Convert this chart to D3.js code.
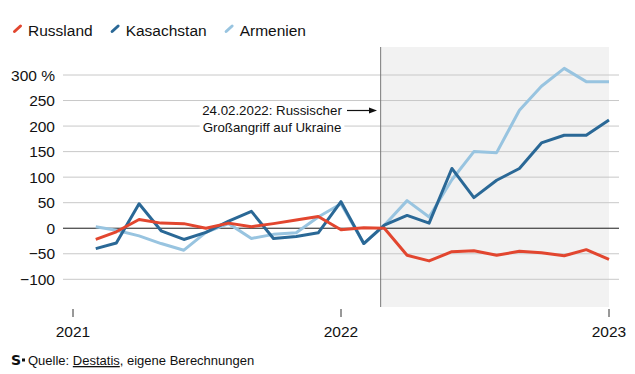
<!DOCTYPE html>
<html lang="de">
<head>
<meta charset="UTF-8">
<title>Exporte nach Russland, Kasachstan, Armenien</title>
<script src="https://cdn.jsdelivr.net/npm/d3@7"></script>
<style>
body { margin: 0; background: #fff; }
svg text { font-family: "Liberation Sans", Arimo, sans-serif; fill: #111; }
</style>
</head>
<body>
<svg width="635" height="374"></svg>
<script>
// Monate Feb 2021 bis Jan 2023, Veränderung in %
var months = ["2021-02", "2021-03", "2021-04", "2021-05", "2021-06", "2021-07", "2021-08", "2021-09",
    "2021-10", "2021-11", "2021-12", "2022-01", "2022-02", "2022-03", "2022-04", "2022-05",
    "2022-06", "2022-07", "2022-08", "2022-09", "2022-10", "2022-11", "2022-12", "2023-01"];
var russland = [-22, -7, 17, 10, 9, 0, 10, 3, 9, 16, 23, -3, 1, 0, -53, -64, -46, -44, -53, -45, -48, -54, -42, -61];
var kasachstan = [-40, -29, 48, -5, -22, -8, 14, 33, -20, -16, -9, 52, -30, 6, 25, 10, 117, 60, 94, 117, 167, 182, 182, 212];
var armenien = [3, -4, -15, -30, -43, -8, 9, -20, -12, -9, 22, 48, -30, 6, 54, 22, 95, 150, 148, 231, 278, 313, 287, 287];
var categories = ["Russland", "Kasachstan", "Armenien"];
var colors = ["#e2462f", "#2a6896", "#98c4e0"];
var yTicks = [-100, -50, 0, 50, 100, 150, 200, 250, 300];
var xTicks = ["2021-01-01", "2022-01-01", "2023-01-01"];
var invasion = "2022-02-24";

var svg = d3.select("svg");
var parse = d3.timeParse("%Y-%m");
var parseDay = d3.timeParse("%Y-%m-%d");

var x = d3.scaleTime().domain([parseDay("2021-01-01"), parseDay("2023-01-01")]).range([73, 609]);
var y = d3.scaleLinear().domain([-100, 300]).range([279.3, 75]);
var gridLeft = 63, gridRight = 619, plotTop = 47, plotBottom = 307;

// Bereich nach Kriegsbeginn
var xInv = x(parseDay(invasion));
svg.append("rect").attr("x", xInv).attr("y", plotTop).attr("width", x(parseDay("2023-01-01")) - xInv)
    .attr("height", plotBottom - plotTop).attr("fill", "#f2f2f2");

// Gitter
svg.append("g").selectAll("line").data(yTicks.filter(function(d) { return d != 0; })).enter()
    .append("line").attr("x1", gridLeft).attr("x2", gridRight)
    .attr("y1", function(d) { return y(d); }).attr("y2", function(d) { return y(d); })
    .attr("stroke", "#c8c8c8").attr("stroke-width", 1);

svg.append("line").attr("x1", xInv).attr("x2", xInv).attr("y1", plotTop).attr("y2", plotBottom)
    .attr("stroke", "#7a7a7a").attr("stroke-width", 1);

// y-Beschriftung
var fmt = d3.format("d");
svg.append("g").selectAll("text").data(yTicks).enter().append("text")
    .attr("x", 55).attr("y", function(d) { return y(d); }).attr("dy", "0.36em")
    .attr("text-anchor", "end").style("font-size", "15.5px")
    .text(function(d) { return d == 300 ? "300 %" : fmt(d); });

// x-Achse
var xAxis = svg.append("g");
xAxis.selectAll("line").data(xTicks).enter().append("line")
    .attr("x1", function(d) { return x(parseDay(d)); }).attr("x2", function(d) { return x(parseDay(d)); })
    .attr("y1", 309).attr("y2", 317).attr("stroke", "#333");
xAxis.selectAll("text").data(xTicks).enter().append("text")
    .attr("x", function(d) { return x(parseDay(d)); }).attr("y", 337)
    .attr("text-anchor", "middle").style("font-size", "15.5px")
    .text(function(d) { return d.slice(0, 4); });

// Linien
var series = [armenien, kasachstan, russland];
var seriesColors = [colors[2], colors[1], colors[0]];
var line = d3.line().x(function(d, i) { return x(parse(months[i])); }).y(function(d) { return y(d); });

svg.append("line").attr("x1", gridLeft).attr("x2", gridRight).attr("y1", y(0)).attr("y2", y(0))
    .attr("stroke", "#1a1a1a").attr("stroke-width", 1);

svg.append("g").selectAll("path").data(series).enter().append("path")
    .attr("d", line).attr("fill", "none")
    .attr("stroke", function(d, i) { return seriesColors[i]; })
    .attr("stroke-width", 3).attr("stroke-linejoin", "round");

// Annotation
var ann = svg.append("g");
var annLines = ["24.02.2022: Russischer", "Großangriff auf Ukraine"];
var annText = ann.selectAll("text").data(annLines).enter().append("text")
    .attr("x", 272).attr("y", function(d, i) { return 115 + i * 16.5; })
    .attr("text-anchor", "middle").style("font-size", "13.3px")
    .text(function(d) { return d; });
annText.each(function(d, i) {
    var b = this.getBBox();
    var w = b.width + 6 + (i == 0 ? 30 : 0);
    ann.insert("rect", "text").attr("x", b.x - 3).attr("y", b.y - 1).attr("width", w)
        .attr("height", b.height + 2).attr("fill", "#fff");
});
ann.append("line").attr("x1", 347).attr("x2", 370).attr("y1", 110.5).attr("y2", 110.5)
    .attr("stroke", "#111").attr("stroke-width", 1.2);
ann.append("path").attr("d", "M369,107.5L377,110.5L369,113.5Z").attr("fill", "#111");

// Legende
var leg = svg.append("g");
var lx = 13;
categories.forEach(function(c, i) {
    leg.append("line").attr("x1", lx + 1.5).attr("y1", 31.5).attr("x2", lx + 7.5).attr("y2", 26)
        .attr("stroke", colors[i]).attr("stroke-width", 3).attr("stroke-linecap", "round");
    var t = leg.append("text").attr("x", lx + 15).attr("y", 36).style("font-size", "15.5px").text(c);
    lx = lx + 15 + t.node().getComputedTextLength() + 18;
});

// Quelle
var foot = svg.append("g");
foot.append("text").attr("x", 11).attr("y", 365).style("font-size", "14px")
    .style("font-weight", "900").style("font-family", "'DejaVu Sans', sans-serif").text("S");
foot.append("rect").attr("x", 22).attr("y", 358.5).attr("width", 3).attr("height", 3).attr("fill", "#111");
var src = foot.append("text").attr("x", 28).attr("y", 365).style("font-size", "13px");
src.append("tspan").text("Quelle: ");
src.append("tspan").style("text-decoration", "underline").text("Destatis");
src.append("tspan").text(", eigene Berechnungen");
</script>
</body>
</html>
